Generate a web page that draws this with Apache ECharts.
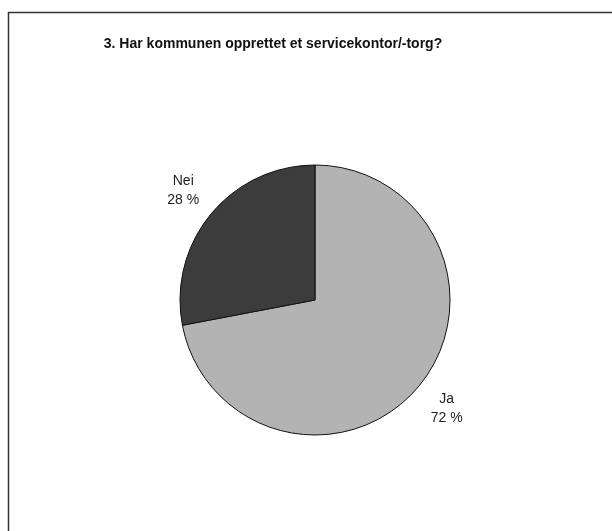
<!DOCTYPE html>
<html>
<head>
<meta charset="utf-8">
<script src="https://cdn.jsdelivr.net/npm/echarts@6/dist/echarts.min.js"></script>
<style>
html,body{margin:0;padding:0;background:#fff;}
#chart{width:612px;height:531px;}
</style>
</head>
<body>
<div id="chart"></div>
<script>
var titleText = '3. Har kommunen opprettet et servicekontor/-torg?';
var categories = ['Ja', 'Nei'];
var values = [72, 28];
var sliceColors = ['#b3b3b3', '#3c3c3c'];

var chart = echarts.init(document.getElementById('chart'), null, {renderer: 'canvas'});
chart.setOption({
  backgroundColor: '#ffffff',
  animation: false,
  title: {
    text: titleText,
    left: 268,
    top: 32,
    textAlign: 'center',
    textStyle: {fontFamily: 'Liberation Sans', fontWeight: 'bold', fontSize: 14, color: '#111'}
  },
  graphic: [{
    type: 'rect',
    shape: {x: 8.5, y: 12.5, width: 640, height: 560},
    style: {fill: 'none', stroke: '#333', lineWidth: 1.5},
    silent: true
  }],
  series: [{
    type: 'pie',
    center: [315, 300],
    radius: 135,
    startAngle: 90,
    clockwise: true,
    data: categories.map(function (c, i) {
      return {name: c, value: values[i], itemStyle: {color: sliceColors[i]}};
    }),
    itemStyle: {borderColor: '#111', borderWidth: 1},
    label: {
      show: true,
      position: 'outside',
      formatter: function (p) { return p.name + '\n' + p.value + ' %'; },
      fontFamily: 'Liberation Sans',
      fontSize: 14,
      lineHeight: 19,
      color: '#222',
      align: 'center'
    },
    labelLine: {show: true, length: 36, length2: 0, lineStyle: {opacity: 0}},
    labelLayout: function (p) {
      var pts = p.labelLinePoints;
      if (!pts) return {};
      return {x: pts[1][0], y: pts[1][1], align: 'center', verticalAlign: 'middle'};
    },
    emphasis: {disabled: true}
  }]
});
</script>
</body>
</html>
